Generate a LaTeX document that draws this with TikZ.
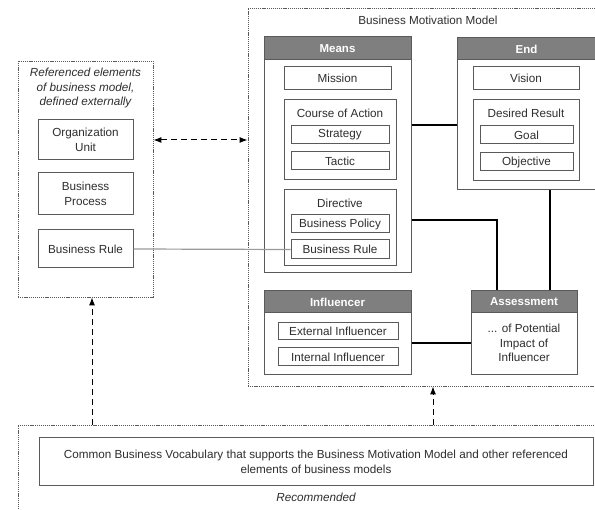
\documentclass[tikz,border=0pt]{standalone}
\usepackage{fontspec}
\setmainfont{Liberation Sans}
\usetikzlibrary{arrows.meta}
\definecolor{headgray}{HTML}{7F7F7F}
\definecolor{linegray}{HTML}{5A5A5A}
\definecolor{textgray}{HTML}{2E2E2E}
\tikzset{
  frame/.style={draw=linegray, line width=0.8pt, dash pattern=on 1.2pt off 0.9pt, inner sep=0pt},
  group/.style={draw=linegray, line width=1pt, fill=white, inner sep=0pt},
  item/.style={draw=linegray, line width=1pt, fill=white, inner sep=0pt, align=center, text=textgray},
  head/.style={fill=headgray, draw=linegray, line width=1pt, inner sep=0pt, text=white, font=\fontsize{11.5}{13}\selectfont\bfseries, anchor=north},
  caption/.style={text=textgray, align=center, inner sep=0pt},
  link/.style={line width=1.8pt, black},
  dlink/.style={line width=1pt, dash pattern=on 6pt off 4pt, -{Latex[length=8pt,width=6pt]}}
}
\begin{document}
\begin{tikzpicture}[x=1pt, y=-1pt, font=\fontsize{11.7}{14.5}\selectfont]
\useasboundingbox (0,0) rectangle (595,510);
\clip (0,0) rectangle (595,510);

% referenced elements
\node[frame, minimum width=135pt, minimum height=236pt] (extframe) at (85.5,179) {};
\node[caption, font=\fontsize{11.7}{14.5}\selectfont\itshape] (exttitle) at (85.5,88) {Referenced elements\\of business model,\\defined externally};
\node[item, minimum width=95pt, minimum height=40pt] (orgunit) at (85.5,140) {Organization\\Unit};
\node[item, minimum width=95pt, minimum height=42pt] (bprocess) at (85.5,194) {Business\\Process};
\node[item, minimum width=95pt, minimum height=38pt] (extrule) at (85.5,249) {Business Rule};

% business motivation model
\node[frame, minimum width=370pt, minimum height=378pt] (bmm) at (433,197) {};
\node[caption] (bmmtitle) at (428,20) {Business Motivation Model};

\node[group, minimum width=147pt, minimum height=236pt] (means) at (337.5,155) {};
\node[head, minimum width=147pt, minimum height=23pt] (meanshead) at (means.north) {Means};
\node[item, minimum width=107pt, minimum height=23pt] (mission) at (337.5,78.5) {Mission};
\node[group, minimum width=112pt, minimum height=80pt] (action) at (340,140) {};
\node[caption] (actiontitle) at (340,113) {Course of Action};
\node[item, minimum width=98pt, minimum height=18pt] (strategy) at (340,135) {Strategy};
\node[item, minimum width=98pt, minimum height=18pt] (tactic) at (340,161) {Tactic};
\node[group, minimum width=112pt, minimum height=76pt] (directive) at (340,228) {};
\node[caption] (directivetitle) at (340,203) {Directive};
\node[item, minimum width=98pt, minimum height=18pt] (policy) at (340,224) {Business Policy};
\node[item, minimum width=98pt, minimum height=19pt] (rule) at (340,249.5) {Business Rule};

\node[group, minimum width=139pt, minimum height=152pt] (end) at (526.5,114) {};
\node[head, minimum width=139pt, minimum height=22pt] (endhead) at (end.north) {End};
\node[item, minimum width=106pt, minimum height=23pt] (vision) at (526,78.5) {Vision};
\node[group, minimum width=106pt, minimum height=81pt] (result) at (526,140.5) {};
\node[caption] (resulttitle) at (526,113) {Desired Result};
\node[item, minimum width=93pt, minimum height=18pt] (goal) at (526.5,135) {Goal};
\node[item, minimum width=93pt, minimum height=18pt] (objective) at (526.5,162) {Objective};

\node[group, minimum width=147pt, minimum height=84pt] (influencer) at (337.5,333) {};
\node[head, minimum width=147pt, minimum height=22pt] (influencerhead) at (influencer.north) {Influencer};
\node[item, minimum width=120pt, minimum height=17pt] (external) at (338,331.5) {External Influencer};
\node[item, minimum width=120pt, minimum height=18pt] (internal) at (338,357) {Internal Influencer};

\node[group, minimum width=106pt, minimum height=84pt] (assessment) at (524,333) {};
\node[head, minimum width=106pt, minimum height=22pt] (assessmenthead) at (assessment.north) {Assessment};
\node[caption] (assessmenttext) at (524,343) {... of Potential\\Impact of\\Influencer};

% vocabulary
\node[frame, minimum width=600pt, minimum height=105pt] (vocframe) at (318,477.5) {};
\node[item, minimum width=554pt, minimum height=48pt] (vocabulary) at (316,462) {Common Business Vocabulary that supports the Business Motivation Model and other referenced\\elements of business models};
\node[caption, font=\fontsize{11.7}{14.5}\selectfont\itshape] (recommended) at (316,497) {Recommended};

% connectors
\draw[link] ([yshift=30pt]means.east) -- ([yshift=30pt]means.east -| end.west);
\draw[link] ([yshift=-65pt]means.east) -| ([xshift=-27pt]assessment.north);
\draw[link] ([xshift=26pt]assessment.north |- end.south) -- ([xshift=26pt]assessment.north);
\draw[link] ([yshift=-10pt]influencer.east) -- ([yshift=-10pt]assessment.west);
\draw[line width=1.2pt, black!40] (extrule.east) -- (rule.west);
\draw[dlink, {Latex[length=8pt,width=6pt]}-{Latex[length=8pt,width=6pt]}] (extframe.east |- orgunit) -- (bmm.west |- orgunit);
\draw[dlink] ([xshift=6.5pt]extframe.south |- vocframe.north) -- ([xshift=6.5pt]extframe.south);
\draw[dlink] (vocframe.north -| bmm.south) -- (bmm.south);
\end{tikzpicture}
\end{document}
